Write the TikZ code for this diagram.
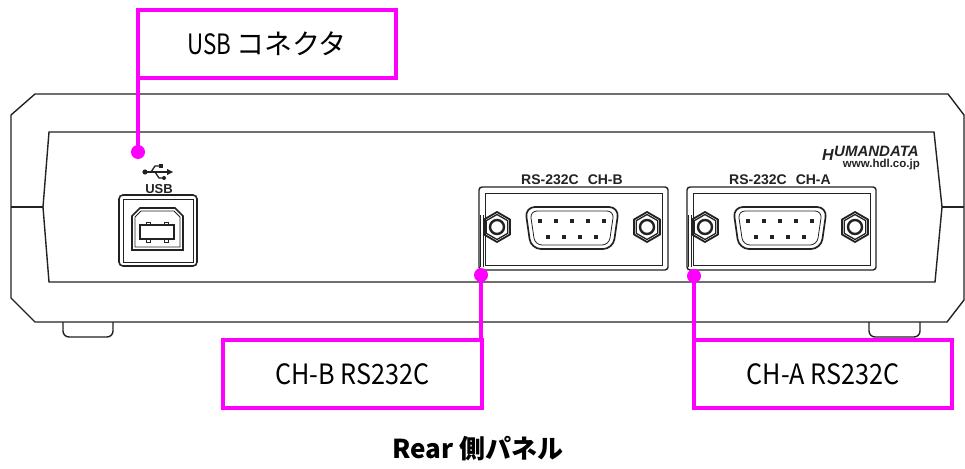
\documentclass[tikz,border=0pt]{standalone}
\usepackage{fontspec}
\setmainfont{Liberation Sans}
\newfontfamily\jp{Noto Sans CJK JP}
\definecolor{mag}{HTML}{FF00FF}
\definecolor{ink}{HTML}{222222}
\tikzset{
  body/.style={draw=ink,line width=1.4pt},
  fine/.style={draw=ink,line width=0.8pt},
  callbox/.style={draw=mag,line width=4pt,minimum height=68pt,inner sep=0pt,
    font=\jp\fontsize{28}{30}\selectfont},
  calldot/.style={fill=mag},
  callline/.style={draw=mag,line width=4pt},
  plabel/.style={font=\bfseries\fontsize{14}{16}\selectfont,anchor=base,inner sep=0pt,text=ink},
  nutpath/.style={draw=ink,line width=1.8pt,line join=round},
  rsplate/.pic={
    \draw[body,rounded corners=3pt] (0,0) rectangle (189,83);
    \draw[fine] (6,6) rectangle (183,78);
    \draw[fine] (1.5,28) -- (1.5,80);
    \draw[fine] (4,28) -- (4,80);
    \draw[body,line width=1.7pt,rounded corners=10pt] (46,20) -- (140,20) -- (134,62) -- (52,62) -- cycle;
    \draw[fine,rounded corners=7pt] (51,24) -- (135,24) -- (130,58) -- (56,58) -- cycle;
    \foreach \i in {0,...,4} \fill[ink] (59+16*\i,32) rectangle ++(4,4);
    \foreach \i in {0,...,3} \fill[ink] (67+16*\i,48) rectangle ++(4,4);
    \coordinate (-nl) at (18,40);
    \coordinate (-nr) at (168,40);
    \foreach \c in {-nl,-nr}{
      \draw[nutpath] (\c) +(90:15) -- +(150:15) -- +(210:15) -- +(270:15) -- +(330:15) -- +(30:15) -- cycle;
      \draw[nutpath,line width=1.3pt] (\c) +(90:12.5) -- +(150:12.5) -- +(210:12.5) -- +(270:12.5) -- +(330:12.5) -- +(30:12.5) -- cycle;
      \draw[ink,line width=2.4pt] (\c) circle[radius=7pt];
    }
  }
}
\begin{document}
\begin{tikzpicture}[x=1pt,y=-1pt]
\useasboundingbox (0,0) rectangle (965,468);
% outer body
\draw[body] (35,94) -- (948,94) -- (964,115) -- (964,300) -- (947,322) -- (35,322) -- (11,298) -- (11,115) -- cycle;
\draw[ink,line width=2pt] (11,207) -- (43,207);
\draw[ink,line width=2pt] (942,207) -- (964,207);
% inner panel
\draw[body] (49,132) -- (934,132) -- (942,207) -- (935,282) -- (49,282) -- (43,207) -- cycle;
% feet
\draw[body,rounded corners=6pt] (63,322) -- (63,337) -- (113,337) -- (113,322);
\draw[body,rounded corners=6pt] (869,322) -- (869,337) -- (920,337) -- (920,322);
% USB icon
\draw[ink,line width=1.5pt] (146,172) -- (168,172);
\fill[ink] (145,172) circle[radius=2.6pt];
\fill[ink] (167,169) -- (173,172) -- (167,175) -- cycle;
\draw[ink,line width=1.3pt] (151,172) -- (155,166) -- (160,166);
\fill[ink] (159,164) rectangle (163,168);
\draw[ink,line width=1.3pt] (155,172) -- (159,178) -- (163,178);
\fill[ink] (164,178) circle[radius=2pt];
\node[font=\bfseries\fontsize{13}{15}\selectfont,anchor=base,inner sep=0pt,text=ink] (usbtxt) at (159,193) {USB};
% USB B connector
\draw[body,line width=1.6pt,rounded corners=4pt] (119,195) rectangle (197,266);
\draw[fine] (123,199) rectangle (193,262);
\draw[body,line width=1.7pt] (132,250) -- (132,216) -- (140,208) -- (175,208) -- (183,216) -- (183,250) -- cycle;
\draw[fine] (135,247) -- (135,217) -- (141,211) -- (174,211) -- (180,217) -- (180,247) -- cycle;
\draw[body,line width=1.7pt] (140,225) rectangle (174,239);
\draw[fine] (146,222) rectangle (150,225);
\draw[fine] (164,222) rectangle (168,225);
\draw[fine] (146,239) rectangle (150,242);
\draw[fine] (164,239) rectangle (168,242);
% RS-232C plates
\node[plabel] (lblb) at (572,184) {RS-232C\hspace{9pt}CH-B};
\node[plabel] (lbla) at (780,184) {RS-232C\hspace{9pt}CH-A};
\pic (chb) at (479,187) {rsplate};
\pic (cha) at (687,187) {rsplate};
% logo
\node[font=\bfseries\itshape\fontsize{16}{18}\selectfont,anchor=base west,inner sep=0pt,text=ink] (logoh) at (822,160) {H};
\node[font=\bfseries\itshape\fontsize{15}{17}\selectfont,anchor=base west,inner sep=0pt,text=ink] (logo) at (834,156) {UMANDATA};
\node[font=\bfseries\fontsize{11.5}{13}\selectfont,anchor=base east,inner sep=0pt,text=ink] (www) at (920,167) {www.hdl.co.jp};
% callouts
\node[callbox,minimum width=258pt] (usbbox) at (267,44) {\scalebox{0.8}[1]{USB}\hspace{5pt}コネクタ};
\node[callbox,minimum width=259pt] (chbbox) at (352.5,374) {\scalebox{0.9}[1]{CH-B RS232C}};
\node[callbox,minimum width=258pt] (chabox) at (823,374) {\scalebox{0.9}[1]{CH-A RS232C}};
\coordinate (usbdot) at (138,152);
\coordinate (chbdot) at (481,275);
\coordinate (chadot) at (694,276);
\draw[callline] (usbdot) -- (usbdot |- usbbox.south);
\draw[callline] (chbdot) -- (chbdot |- chbbox.north);
\draw[callline] (chadot) -- (chadot |- chabox.north);
\fill[calldot] (usbdot) circle[radius=7pt];
\fill[calldot] (chbdot) circle[radius=7pt];
\fill[calldot] (chadot) circle[radius=7pt];
% title
\node[font=\jp\bfseries\fontsize{26}{28}\selectfont,inner sep=0pt] (title) at (478,449) {Rear 側パネル};
\end{tikzpicture}
\end{document}
